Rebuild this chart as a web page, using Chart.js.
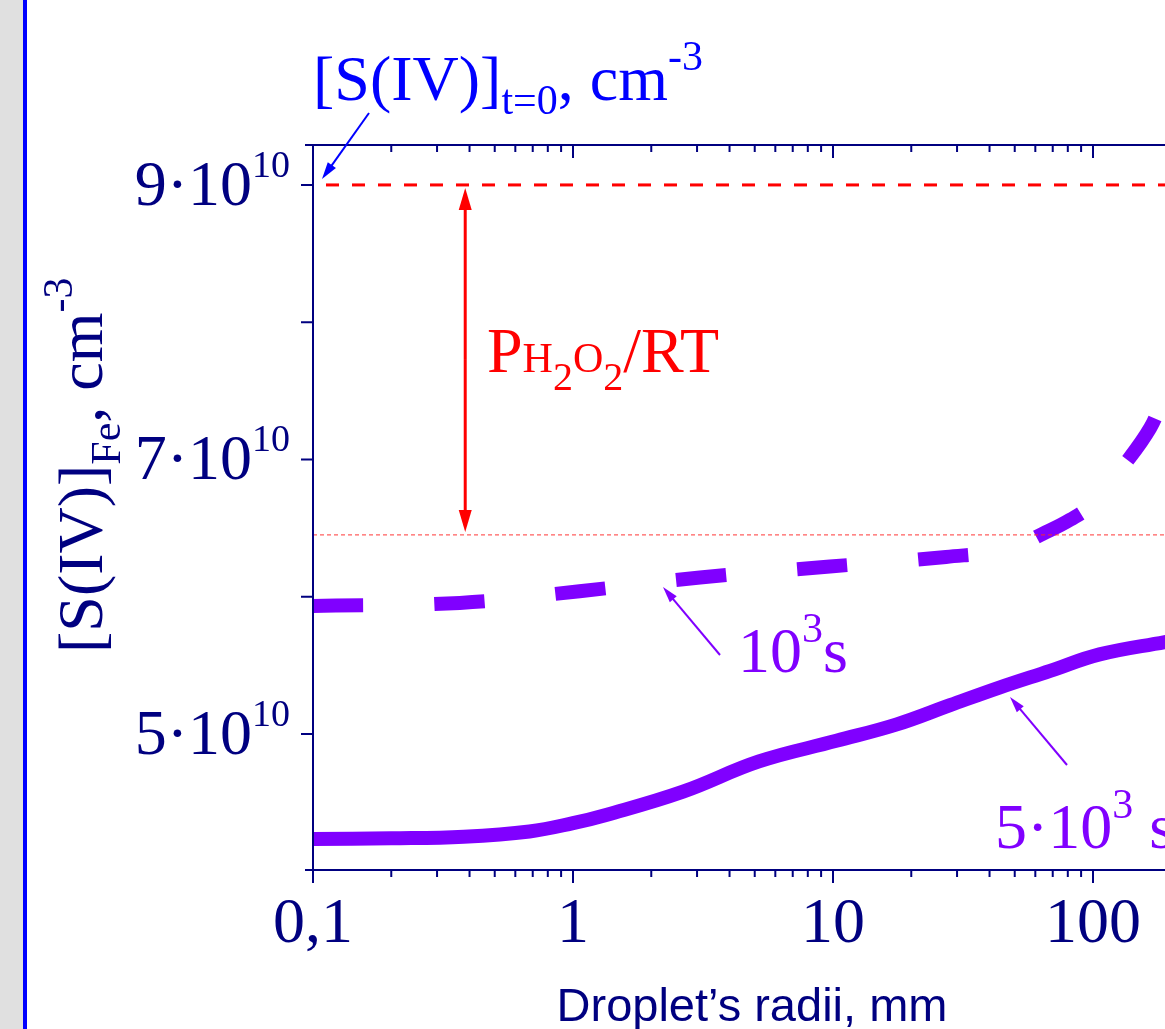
<!DOCTYPE html>
<html>
<head>
<meta charset="utf-8">
<script src="https://cdn.jsdelivr.net/npm/chart.js@4.4.1/dist/chart.umd.min.js"></script>
<style>
  html, body { margin: 0; padding: 0; overflow: hidden; background: #fff; }
  canvas { display: block; }
</style>
</head>
<body>
<canvas id="chart" width="1400" height="1029"></canvas>
<script>
// === Data: radii in mm, concentrations in cm^-3 ===
const radiusLong = [0.1, 0.2, 0.38, 0.68, 1.0, 1.34, 2.65, 5.19, 10.3, 17.6, 28.2, 43.9, 68.4, 106, 189, 300];
const concLong = [4.235e10, 4.24e10, 4.252e10, 4.29e10, 4.35e10, 4.41e10, 4.58e10, 4.80e10, 4.95e10, 5.07e10, 5.21e10, 5.34e10, 5.46e10, 5.58e10, 5.67e10, 5.74e10];

const radiusShort = [0.1, 0.367, 1.06, 3.08, 9.73, 27.2, 47.9, 64.3, 81.6, 102, 127, 166, 189, 260];
const concShort = [5.933e10, 5.955e10, 6.04e10, 6.14e10, 6.22e10, 6.29e10, 6.35e10, 6.46e10, 6.56e10, 6.69e10, 6.92e10, 7.23e10, 7.48e10, 8.0e10];

const initialConc = 9e10;        // [S(IV)] at t=0
const peroxideLevel = 6.45e10;   // lower end of the P_H2O2/RT gap
const gapArrowRadius = 0.385;

const yTickValues = [5e10, 7e10, 9e10];
const yTickLabels = ['5·10', '7·10', '9·10'];
const yMinorValues = [6e10, 8e10];
const xTickValues = [0.1, 1, 10, 100];
const xTickLabels = ['0,1', '1', '10', '100'];

const NAVY = '#000080';
const PURPLE = '#8000ff';
const RED = '#ff0000';
const BLUE = '#0000ff';
const SERIF = '"Liberation Serif", "Times New Roman", serif';

// draw text made of pieces: [text, size, dy]
function rich(ctx, x, y, parts, color, align) {
  ctx.save();
  ctx.fillStyle = color;
  ctx.textBaseline = 'alphabetic';
  ctx.textAlign = 'left';
  let w = 0;
  parts.forEach(p => { ctx.font = p[1] + 'px ' + SERIF; w += ctx.measureText(p[0]).width; });
  let cx = align === 'right' ? x - w : align === 'center' ? x - w / 2 : x;
  parts.forEach(p => {
    ctx.font = p[1] + 'px ' + SERIF;
    ctx.fillText(p[0], cx, y + (p[2] || 0));
    cx += ctx.measureText(p[0]).width;
  });
  ctx.restore();
}

function arrow(ctx, x1, y1, x2, y2, color, lw, hl, hw) {
  const a = Math.atan2(y2 - y1, x2 - x1);
  const c = Math.cos(a), s = Math.sin(a);
  ctx.save();
  ctx.strokeStyle = color;
  ctx.fillStyle = color;
  ctx.lineWidth = lw;
  ctx.beginPath();
  ctx.moveTo(x1, y1);
  ctx.lineTo(x2 - c * hl * 0.7, y2 - s * hl * 0.7);
  ctx.stroke();
  ctx.beginPath();
  ctx.moveTo(x2, y2);
  ctx.lineTo(x2 - hl * c + hw / 2 * s, y2 - hl * s - hw / 2 * c);
  ctx.lineTo(x2 - hl * c - hw / 2 * s, y2 - hl * s + hw / 2 * c);
  ctx.closePath();
  ctx.fill();
  ctx.restore();
}

const decorPlugin = {
  id: 'decor',
  beforeDraw(chart) {
    const ctx = chart.ctx;
    ctx.save();
    ctx.fillStyle = '#fff';
    ctx.fillRect(0, 0, chart.width, chart.height);
    ctx.fillStyle = '#e0e0e0';
    ctx.fillRect(0, 0, 23, chart.height);
    ctx.fillStyle = BLUE;
    ctx.fillRect(23, 0, 4, chart.height);
    ctx.restore();
  },
  afterDatasetsDraw(chart) {
    const ctx = chart.ctx;
    const { left, right, top, bottom } = chart.chartArea;
    const xs = chart.scales.x, ys = chart.scales.y;

    // === Frame and ticks ===
    ctx.save();
    ctx.strokeStyle = NAVY;
    ctx.lineWidth = 2;
    ctx.beginPath();
    ctx.moveTo(left - 8, top); ctx.lineTo(right, top);
    ctx.moveTo(left - 8, bottom); ctx.lineTo(right, bottom);
    ctx.moveTo(left, top); ctx.lineTo(left, bottom + 13);
    ctx.moveTo(right, top); ctx.lineTo(right, bottom);
    [...yTickValues, ...yMinorValues].forEach(v => {
      const y = ys.getPixelForValue(v);
      ctx.moveTo(left - 12, y); ctx.lineTo(left, y);
    });
    for (let d = 0.1; d < 1000; d *= 10) {
      for (let k = 1; k <= 9; k++) {
        const x = xs.getPixelForValue(k * d);
        const len = k === 1 ? 13 : 7;
        ctx.moveTo(x, bottom); ctx.lineTo(x, bottom + len);
        ctx.moveTo(x, top); ctx.lineTo(x, top + len);
      }
    }
    ctx.stroke();
    ctx.restore();

    // === Tick labels ===
    yTickValues.forEach((v, i) => {
      rich(ctx, 290, ys.getPixelForValue(v) + 20, [[yTickLabels[i], 64], ['10', 38, -28]], NAVY, 'right');
    });
    xTickValues.forEach((v, i) => {
      rich(ctx, xs.getPixelForValue(v), 942, [[xTickLabels[i], 64]], NAVY, 'center');
    });

    // === Axis titles ===
    ctx.save();
    ctx.fillStyle = NAVY;
    ctx.font = '47px "Liberation Sans", Arial, sans-serif';
    ctx.textAlign = 'center';
    ctx.fillText('Droplet’s radii, mm', 752, 1021);
    ctx.restore();

    ctx.save();
    ctx.translate(102, 653);
    ctx.rotate(-Math.PI / 2);
    rich(ctx, 0, 0, [['[S(IV)]', 64], ['Fe', 42, 18], [', cm', 64], ['-3', 42, -30]], NAVY, 'left');
    ctx.restore();

    // === Annotations ===
    rich(ctx, 313, 100, [['[S(IV)]', 64], ['t=0', 42, 14], [', cm', 64], ['-3', 42, -30]], BLUE, 'left');
    arrow(ctx, 369, 113, 322, 179, BLUE, 2, 17, 10);

    const ax = xs.getPixelForValue(gapArrowRadius);
    const yTop = ys.getPixelForValue(initialConc);
    const yLow = ys.getPixelForValue(peroxideLevel);
    arrow(ctx, ax, (yTop + yLow) / 2, ax, yTop + 3, RED, 3, 22, 13);
    arrow(ctx, ax, (yTop + yLow) / 2, ax, yLow - 3, RED, 3, 22, 13);
    rich(ctx, 487, 372, [['P', 64], ['H', 42], ['2', 40, 18], ['O', 42], ['2', 40, 18], ['/RT', 64]], RED, 'left');

    rich(ctx, 738, 672, [['10', 64], ['3', 42, -30], ['s', 64]], PURPLE, 'left');
    arrow(ctx, 720, 655, 663, 587, PURPLE, 2, 16, 9);

    rich(ctx, 995, 848, [['5·10', 64], ['3', 42, -30], [' s', 64]], PURPLE, 'left');
    arrow(ctx, 1067, 765, 1010, 697, PURPLE, 2, 16, 9);
  }
};

new Chart(document.getElementById('chart'), {
  type: 'line',
  data: {
    datasets: [
      {
        label: 't=0',
        data: [{ x: 0.1, y: initialConc }, { x: 1000, y: initialConc }],
        borderColor: RED,
        borderWidth: 3,
        borderDash: [13, 13],
        borderDashOffset: 13,
        pointRadius: 0
      },
      {
        label: 'H2O2 level',
        data: [{ x: 0.1, y: peroxideLevel }, { x: 1000, y: peroxideLevel }],
        borderColor: 'rgba(255,40,40,0.75)',
        borderWidth: 1.2,
        borderDash: [4, 3],
        pointRadius: 0
      },
      {
        label: '1e3 s',
        data: radiusShort.map((r, i) => ({ x: r, y: concShort[i] })),
        borderColor: PURPLE,
        borderWidth: 14,
        borderDash: [50, 71.5],
        borderCapStyle: 'butt',
        tension: 0.4,
        pointRadius: 0
      },
      {
        label: '5e3 s',
        data: radiusLong.map((r, i) => ({ x: r, y: concLong[i] })),
        borderColor: PURPLE,
        borderWidth: 14,
        borderCapStyle: 'butt',
        tension: 0.4,
        pointRadius: 0
      }
    ]
  },
  options: {
    responsive: false,
    animation: false,
    layout: { padding: { left: 313, top: 145, right: 47, bottom: 159 } },
    plugins: { legend: { display: false }, title: { display: false }, tooltip: { enabled: false } },
    scales: {
      x: { type: 'logarithmic', min: 0.1, max: 1000, display: false },
      y: { type: 'linear', min: 4.009e10, max: 9.291e10, display: false }
    }
  },
  plugins: [decorPlugin]
});
</script>
</body>
</html>
